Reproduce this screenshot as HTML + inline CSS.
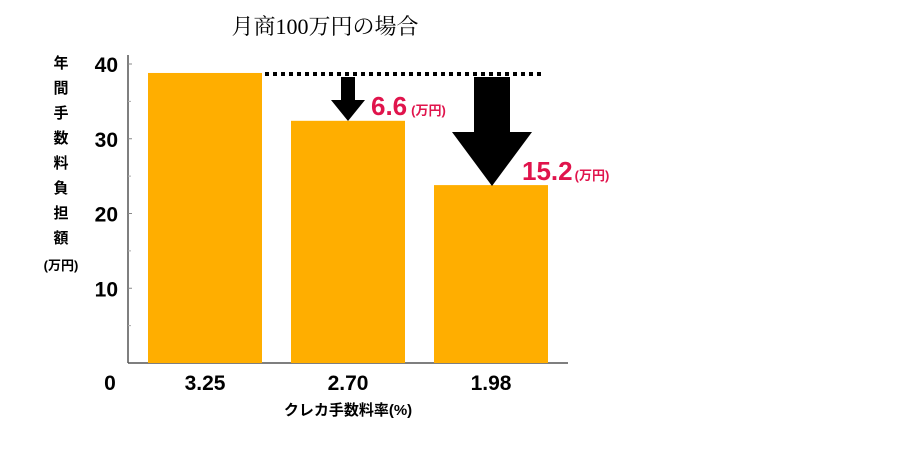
<!DOCTYPE html>
<html><head><meta charset="utf-8"><style>
body{margin:0;background:#fff;width:900px;height:450px;overflow:hidden}
svg text{font-family:"Liberation Sans","Noto Sans CJK JP",sans-serif}
</style></head><body>
<svg width="900" height="450">
<text x="325" y="34" font-size="22" text-anchor="middle" font-family="Liberation Serif,'Noto Serif CJK SC',serif" style="font-family:'Liberation Serif','Noto Serif CJK SC',serif">月商100万円の場合</text>
<g id="yt" font-weight="bold" font-size="15" text-anchor="middle"></g>
<g id="axes"></g>
<g id="bars"></g>
<line x1="265" y1="74" x2="542" y2="74" stroke="#000" stroke-width="4" stroke-dasharray="4,4"/>
<polygon points="341,77 355,77 355,100 365,100 348,121 331,100 341,100" fill="#000"/>
<polygon points="474,77 510,77 510,132 532,132 492,186 452,132 474,132" fill="#000"/>
<text x="371" y="115" fill="#e0144c" font-weight="bold" font-size="26">6.6<tspan font-size="13" dx="4">(万円)</tspan></text>
<text x="522" y="180" fill="#e0144c" font-weight="bold" font-size="26">15.2<tspan font-size="13" dx="2">(万円)</tspan></text>
<text x="110" y="390" font-size="21" font-weight="bold" text-anchor="middle">0</text>
<text x="348" y="415" font-size="15" font-weight="bold" text-anchor="middle">クレカ手数料率(%)</text>
</svg>
<script>
const categories=["3.25","2.70","1.98"];
const values=[38.8,32.4,23.8];
const yTicks=[10,20,30,40];
const yMinor=[5,15,25,35];
const NS="http://www.w3.org/2000/svg";
const y0=363,x0=128,pu=7.475;
const ys=v=>y0-v*pu;
const xs=i=>148+i*143;
function mk(t,a,p){const e=document.createElementNS(NS,t);for(const k in a)e.setAttribute(k,a[k]);p.appendChild(e);return e;}
const ax=document.getElementById('axes');
const bars=document.getElementById('bars');
let l=mk('line',{x1:x0,y1:55,x2:x0,y2:y0,stroke:'#555','stroke-width':1.5},ax);


l=mk('line',{x1:x0,y1:y0,x2:568,y2:y0,stroke:'#555','stroke-width':1.5},ax);


yTicks.forEach(v=>{
 const t=mk('text',{x:118,y:ys(v)+8,'font-size':21,'font-weight':'bold','text-anchor':'end'},ax);
 t.textContent=v;
 
 
 mk('line',{x1:x0,y1:ys(v),x2:x0+4,y2:ys(v),stroke:'#888'},ax);
});
yMinor.forEach(v=>{mk('line',{x1:x0,y1:ys(v),x2:x0+3,y2:ys(v),stroke:'#aaa'},ax);});
categories.forEach((c,i)=>{
 const r=mk('rect',{x:xs(i),y:ys(values[i]),width:114,height:y0-ys(values[i]),fill:'#ffae00'},bars);
 
 
 const t=mk('text',{x:xs(i)+57,y:390,'font-size':21,'font-weight':'bold','text-anchor':'middle'},ax);
 t.textContent=c;
 
 
});
const yt=document.getElementById('yt');
"年間手数料負担額".split('').forEach((ch,i)=>{const t=mk('text',{x:61,y:68+i*25},yt);t.textContent=ch;});
const u=mk('text',{x:61,y:270,'font-size':13},yt);u.textContent='(万円)';
</script>
</body></html>
